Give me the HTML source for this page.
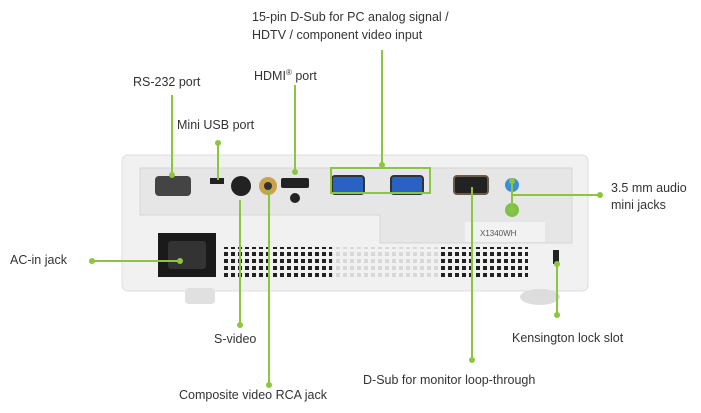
<!DOCTYPE html>
<html><head><style>
body{margin:0;width:701px;height:413px;background:#fff;position:relative;overflow:hidden;font-family:"Liberation Sans",sans-serif;}
.t{position:absolute;font-size:12.5px;color:#333;white-space:nowrap;line-height:18px}
</style></head><body>
<svg width="701" height="413" style="position:absolute;left:0;top:0">
<!-- body -->
<rect x="122" y="155" width="466" height="136" rx="6" fill="#f1f1f1" stroke="#ddd"/>
<rect x="185" y="288" width="30" height="16" rx="4" fill="#e0e0e0"/>
<ellipse cx="540" cy="297" rx="20" ry="8" fill="#ddd"/>
<path d="M140 168 H572 V243 H380 V215 H140 Z" fill="#e6e6e6" stroke="#d6d6d6"/>
<rect x="465" y="222" width="80" height="20" fill="#f2f2f2"/>
<text x="480" y="236" font-size="8" fill="#555" font-family="Liberation Sans">X1340WH</text>
<!-- power -->
<rect x="158" y="233" width="58" height="44" fill="#1a1a1a"/>
<rect x="168" y="241" width="38" height="28" rx="3" fill="#333"/>
<!-- vents -->
<g fill="#222">
<rect x="222" y="247" width="110" height="33" fill="url(#v)"/>
<rect x="440" y="247" width="88" height="33" fill="url(#v)"/>
</g>
<defs><pattern id="v" width="7" height="7" patternUnits="userSpaceOnUse"><rect width="4" height="4" fill="#222"/></pattern>
<pattern id="w" width="7" height="7" patternUnits="userSpaceOnUse"><rect width="4" height="4" fill="#d8d8d8"/></pattern></defs>
<rect x="332" y="247" width="108" height="33" fill="url(#w)"/>
<!-- connectors -->
<rect x="155" y="176" width="36" height="20" rx="4" fill="#444"/>
<rect x="210" y="178" width="14" height="6" fill="#222"/>
<circle cx="241" cy="186" r="10" fill="#222"/>
<circle cx="268" cy="186" r="9" fill="#c9a24a"/><circle cx="268" cy="186" r="4" fill="#333"/>
<rect x="281" y="178" width="28" height="10" rx="2" fill="#222"/>
<circle cx="295" cy="198" r="5" fill="#222"/>
<rect x="332" y="176" width="32" height="18" rx="3" fill="#2a62c4" stroke="#333" stroke-width="2"/>
<rect x="391" y="176" width="32" height="18" rx="3" fill="#2a62c4" stroke="#333" stroke-width="2"/>
<rect x="454" y="176" width="34" height="18" rx="3" fill="#222" stroke="#6b5a45" stroke-width="2"/>
<circle cx="512" cy="185" r="7" fill="#3b8fd6"/>
<circle cx="512" cy="210" r="7" fill="#7cc24a"/>
<rect x="553" y="250" width="6" height="14" fill="#222"/>
<!-- callouts -->
<g stroke="#8cc63f" stroke-width="2" fill="none">
<line x1="172" y1="95" x2="172" y2="175"/>
<line x1="218" y1="143" x2="218" y2="180"/>
<line x1="295" y1="85" x2="295" y2="172"/>
<line x1="382" y1="50" x2="382" y2="165"/>
<rect x="331" y="168" width="99" height="25"/>
<line x1="240" y1="200" x2="240" y2="325"/>
<line x1="269" y1="190" x2="269" y2="385"/>
<line x1="472" y1="187" x2="472" y2="360"/>
<line x1="512" y1="180" x2="512" y2="212"/>
<line x1="512" y1="195" x2="600" y2="195"/>
<line x1="557" y1="264" x2="557" y2="315"/>
<line x1="92" y1="261" x2="180" y2="261"/>
</g>
<g fill="#8cc63f">
<circle cx="172" cy="175" r="3"/><circle cx="218" cy="143" r="3"/><circle cx="295" cy="172" r="3"/>
<circle cx="382" cy="165" r="3"/><circle cx="240" cy="325" r="3"/><circle cx="269" cy="385" r="3"/>
<circle cx="472" cy="360" r="3"/><circle cx="512" cy="181" r="3"/><circle cx="512" cy="210" r="3"/>
<circle cx="600" cy="195" r="3"/><circle cx="557" cy="264" r="3"/><circle cx="557" cy="315" r="3"/>
<circle cx="92" cy="261" r="3"/><circle cx="180" cy="261" r="3"/>
</g>
</svg>
<div class="t" style="left:252px;top:8px">15-pin D-Sub for PC analog signal /</div>
<div class="t" style="left:252px;top:26px">HDTV / component video input</div>
<div class="t" style="left:254px;top:64px">HDMI<sup style="font-size:8px">®</sup> port</div>
<div class="t" style="left:133px;top:73px">RS-232 port</div>
<div class="t" style="left:177px;top:116px">Mini USB port</div>
<div class="t" style="left:611px;top:179px">3.5 mm audio</div>
<div class="t" style="left:611px;top:196px">mini jacks</div>
<div class="t" style="left:10px;top:251px">AC-in jack</div>
<div class="t" style="left:214px;top:330px">S-video</div>
<div class="t" style="left:179px;top:386px">Composite video RCA jack</div>
<div class="t" style="left:363px;top:371px">D-Sub for monitor loop-through</div>
<div class="t" style="left:512px;top:329px">Kensington lock slot</div>
</body></html>
